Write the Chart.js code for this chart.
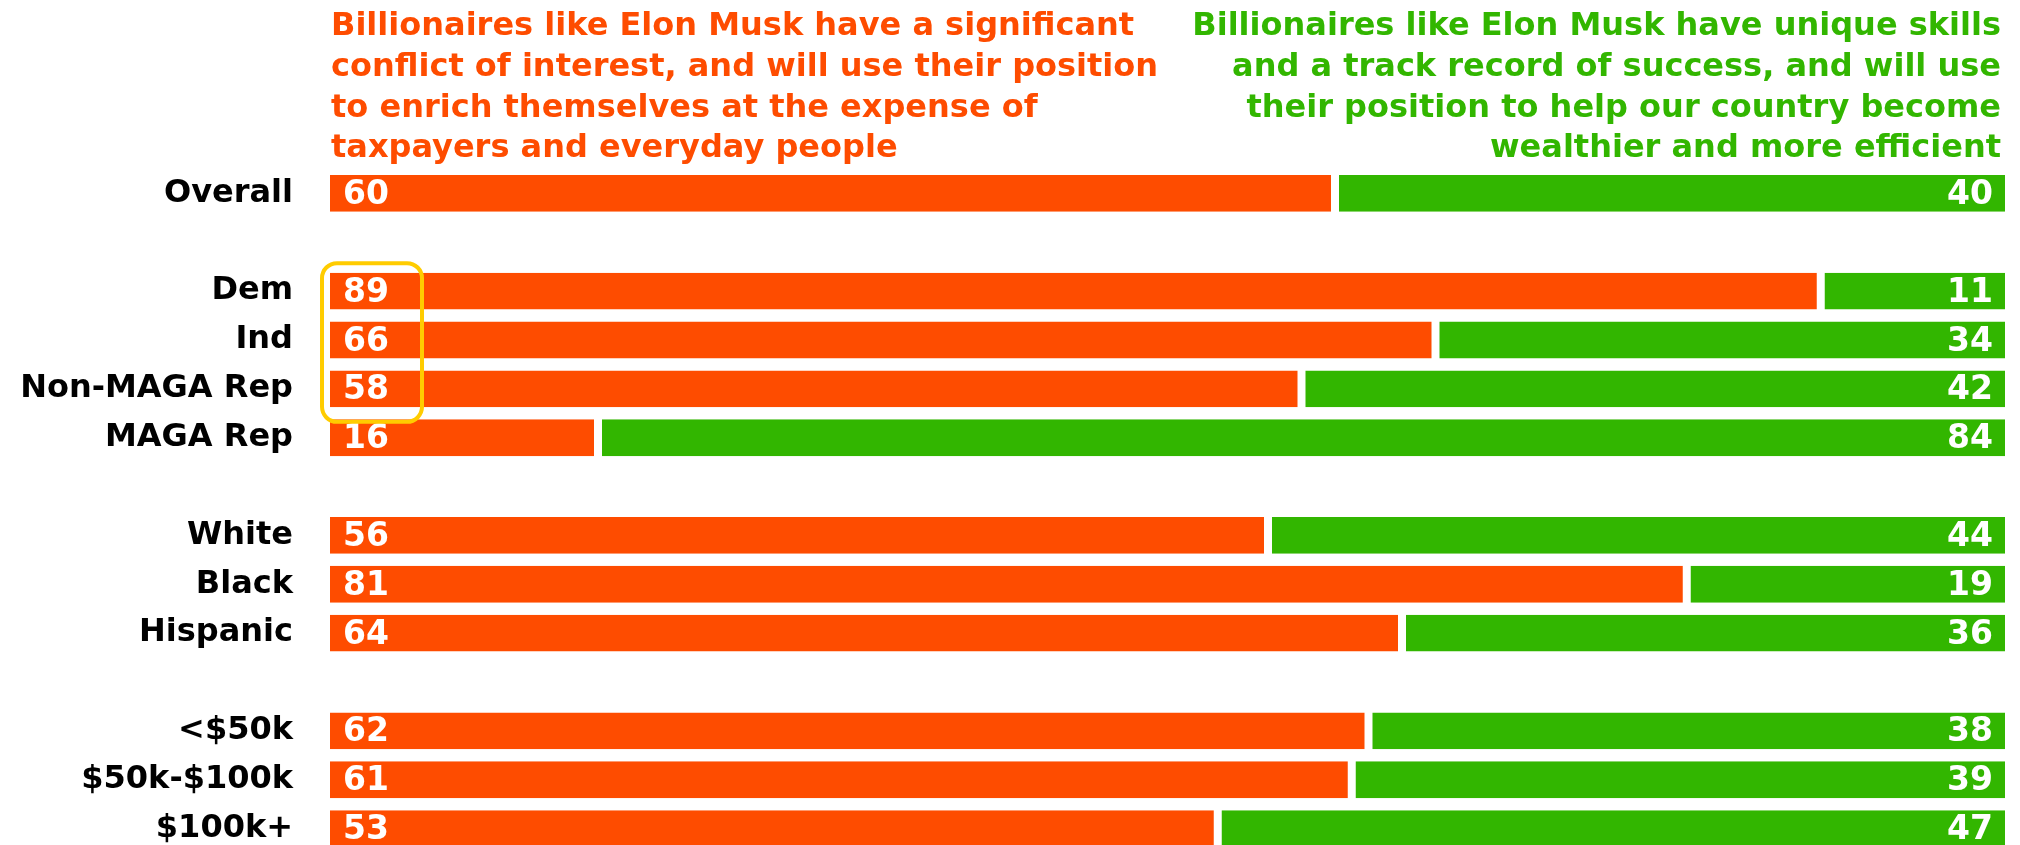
<!DOCTYPE html>
<html>
<head>
<meta charset="utf-8">
<script src="https://cdn.jsdelivr.net/npm/chart.js@4"></script>
<style>
  html, body { margin: 0; padding: 0; background: #fff; overflow: hidden; }
  #wrap { position: relative; width: 2020px; height: 860px; }
</style>
</head>
<body>
<div id="wrap"><canvas id="chart"></canvas></div>
<script>
// blank strings are spacer rows between the groups
const categories = ['Overall', '', 'Dem', 'Ind', 'Non-MAGA Rep', 'MAGA Rep', '', 'White', 'Black', 'Hispanic', '', '<$50k', '$50k-$100k', '$100k+']
const conflictShare = [60, null, 89, 66, 58, 16, null, 56, 81, 64, null, 62, 61, 53]
const skillsShare = [40, null, 11, 34, 42, 84, null, 44, 19, 36, null, 38, 39, 47]

const conflictText = [
  'Billionaires like Elon Musk have a significant',
  'conflict of interest, and will use their position',
  'to enrich themselves at the expense of',
  'taxpayers and everyday people',
]
const skillsText = [
  'Billionaires like Elon Musk have unique skills',
  'and a track record of success, and will use',
  'their position to help our country become',
  'wealthier and more efficient',
]

const ORANGE = '#FE4C00'
const GREEN = '#32B600'
const GOLD = '#FFCC00'
const FONT = '"DejaVu Sans", Inter, sans-serif'

const headerPlugin = {
  id: 'header',
  afterDraw (chart) {
    const { ctx, chartArea } = chart
    const baselines = [35, 76, 117, 157]
    ctx.save()
    ctx.font = `700 32px ${FONT}`
    ctx.textBaseline = 'alphabetic'
    ctx.fillStyle = ORANGE
    ctx.textAlign = 'left'
    conflictText.forEach((line, i) => ctx.fillText(line, chartArea.left + 1, baselines[i]))
    ctx.fillStyle = GREEN
    ctx.textAlign = 'right'
    skillsText.forEach((line, i) => ctx.fillText(line, chartArea.right - 4, baselines[i]))
    ctx.restore()
  },
}

const valueLabels = {
  id: 'valueLabels',
  afterDatasetsDraw (chart) {
    const { ctx } = chart
    ctx.save()
    ctx.font = `700 33px ${FONT}`
    ctx.fillStyle = '#fff'
    ctx.textBaseline = 'middle'
    chart.data.datasets.forEach((ds, i) => {
      chart.getDatasetMeta(i).data.forEach((bar, j) => {
        const v = ds.data[j]
        if (v == null) return
        const { x, y, base } = bar.getProps(['x', 'y', 'base'], true)
        ctx.textAlign = i === 0 ? 'left' : 'right'
        ctx.fillText(String(v), i === 0 ? base + 13 : x - 12, y + 2)
      })
    })
    ctx.restore()
  },
}

// rounded outline around the party rows' left-hand values
const partyHighlight = {
  id: 'partyHighlight',
  afterDatasetsDraw (chart) {
    const { ctx, chartArea, scales } = chart
    const left = chartArea.left - 8
    const top = scales.y.getPixelForValue(2) - 28
    const bottom = scales.y.getPixelForValue(4) + 33
    ctx.save()
    ctx.strokeStyle = GOLD
    ctx.lineWidth = 4
    ctx.beginPath()
    ctx.roundRect(left, top, 100, bottom - top, 15)
    ctx.stroke()
    ctx.restore()
  },
}

new Chart(document.getElementById('chart'), {
  type: 'bar',
  data: {
    labels: categories,
    datasets: [
      {
        data: conflictShare,
        backgroundColor: ORANGE,
        borderColor: '#fff',
        borderWidth: { top: 0, bottom: 0, left: 0, right: 4 },
        borderSkipped: false,
      },
      {
        data: skillsShare,
        backgroundColor: GREEN,
        borderColor: '#fff',
        borderWidth: { top: 0, bottom: 0, left: 4, right: 0 },
        borderSkipped: false,
      },
    ],
  },
  options: {
    indexAxis: 'y',
    responsive: true,
    maintainAspectRatio: false,
    devicePixelRatio: 1,
    animation: false,
    barPercentage: 0.755,
    categoryPercentage: 1,
    layout: { padding: { top: 169, right: 15, bottom: 7, left: 0 } },
    plugins: { legend: { display: false }, tooltip: { enabled: false } },
    scales: {
      x: { stacked: true, min: 0, max: 100, display: false },
      y: {
        stacked: true,
        grid: { display: false, drawTicks: false },
        border: { display: false },
        afterFit: (scale) => {
          scale.width = 330
          // tick padding only sets the label gap, not extra room above and below
          scale.paddingTop = 0
          scale.paddingBottom = 0
        },
        ticks: {
          padding: 37,
          color: '#000',
          font: { family: FONT, size: 32, weight: 700 },
        },
      },
    },
  },
  plugins: [headerPlugin, valueLabels, partyHighlight],
})
</script>
</body>
</html>
